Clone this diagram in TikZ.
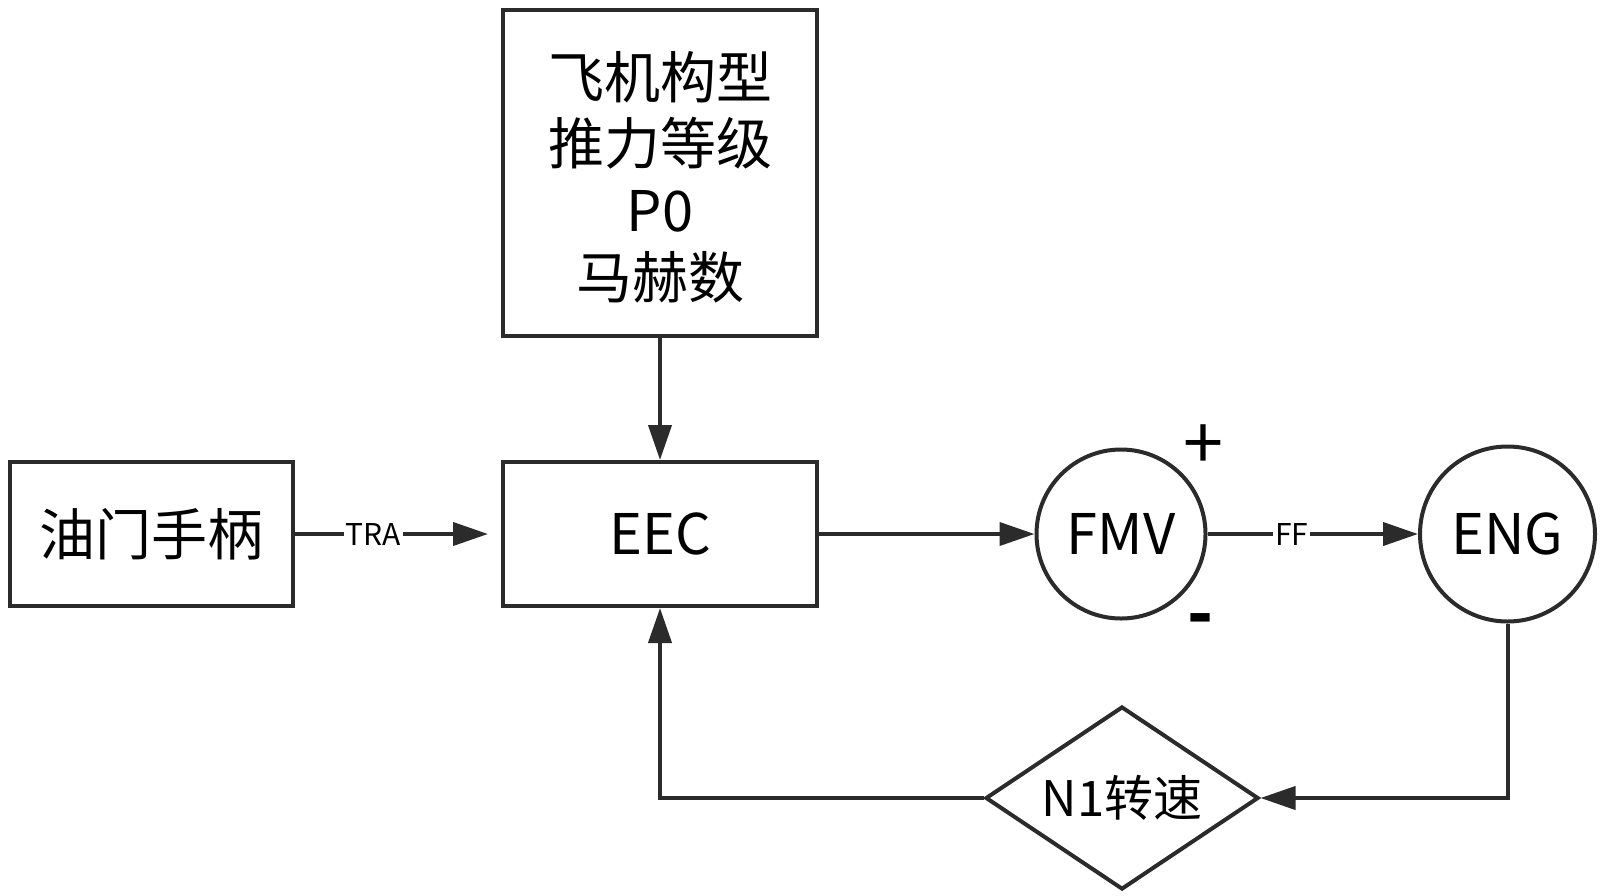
\documentclass[tikz,border=0pt]{standalone}
\usepackage{fontspec}
\setmainfont{Noto Sans CJK SC}
\usetikzlibrary{arrows.meta,shapes.geometric}
\definecolor{ink}{HTML}{2B2B2B}
\tikzset{
  blk/.style={draw=ink, line width=2pt, rectangle, inner sep=0pt, align=center, font=\fontsize{28pt}{33.3pt}\selectfont},
  rnd/.style={draw=ink, line width=2pt, circle, inner sep=0pt, font=\fontsize{28pt}{33pt}\selectfont},
  dia/.style={draw=ink, line width=2pt, diamond, aspect=1.5, inner sep=0pt, font=\fontsize{24.5pt}{30pt}\selectfont},
  arr/.style={draw=ink, line width=2pt, -{Triangle[length=17.5pt,width=11.5pt]}},
  lbl/.style={fill=white, inner sep=1pt, font=\fontsize{15pt}{18pt}\selectfont},
  sgn/.style={inner sep=0pt, font=\fontsize{36pt}{40pt}\selectfont}
}
\begin{document}
\begin{tikzpicture}[x=0.5pt,y=-0.5pt]
\useasboundingbox (0,0) rectangle (1604,895);
\node[blk, minimum width=141.5pt, minimum height=72pt] (thr) at (151.5,534) {油门手柄};
\node[blk, minimum width=157pt, minimum height=163pt] (cfg) at (660,173) {};
\node[align=center, inner sep=0pt, font=\fontsize{28pt}{33.3pt}\selectfont] (cfgt) at (660,177) {飞机构型\\推力等级\\P0\\马赫数};
\node[blk, minimum width=157pt, minimum height=72pt] (eec) at (660,534) {EEC};
\node[rnd, minimum size=84.5pt] (fmv) at (1121,534) {FMV};
\node[rnd, minimum size=87.5pt] (eng) at (1507.5,534) {ENG};
\node[dia, minimum width=136.5pt, minimum height=91.5pt] (n1) at (1122,798) {N1转速};
\node[sgn] (plus) at (1203,447) {+};
\node[sgn, font=\fontsize{34pt}{40pt}\selectfont\bfseries] (minus) at (1201,626) {-};
\draw[arr, shorten >=6.5pt] (thr.east) -- node[lbl, pos=0.38] {TRA} (eec.west);
\draw[arr] (cfg.south) -- (eec.north);
\draw[arr] (eec.east) -- (fmv.west);
\draw[arr] (fmv.east) -- node[lbl, pos=0.40] {FF} (eng.west);
\draw[arr] (eng.south) |- (n1.east);
\draw[arr] (n1.west) -| (eec.south);
\end{tikzpicture}
\end{document}
